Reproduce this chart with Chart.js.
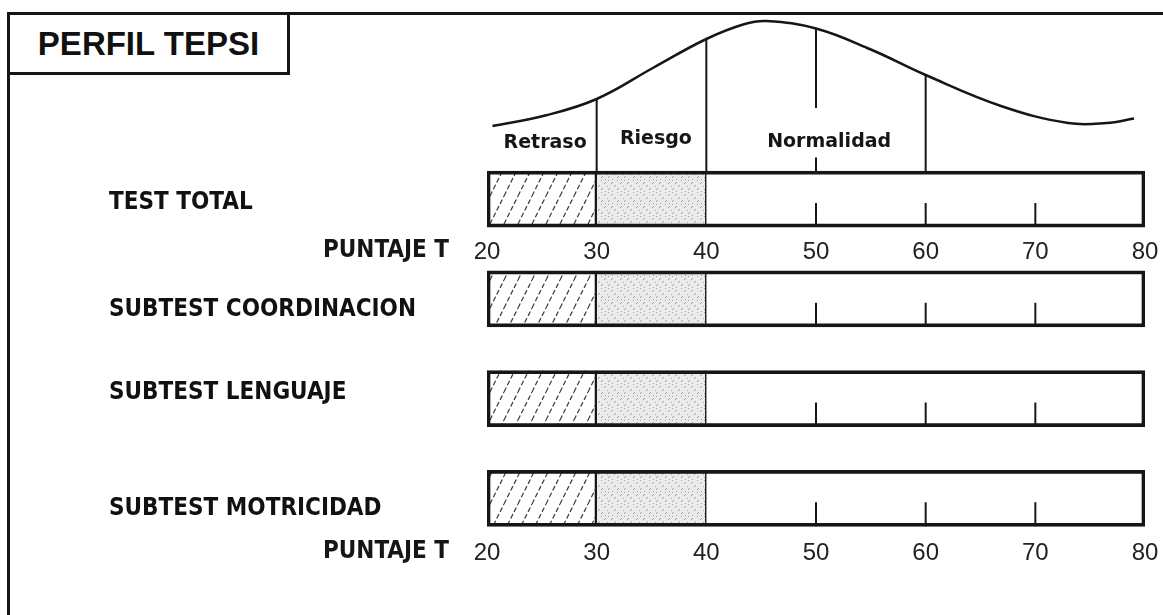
<!DOCTYPE html>
<html>
<head>
<meta charset="utf-8">
<script src="https://cdn.jsdelivr.net/npm/chart.js@4.4.1/dist/chart.umd.min.js"></script>
<style>
  body { margin: 0; background: #fff; }
  #wrap { position: relative; width: 1163px; height: 615px; overflow: hidden; }
  #frame { position: absolute; left: 7px; top: 12px; right: -10px; bottom: -10px;
           border-top: 3px solid #161616; border-left: 3px solid #161616; }
  #title { position: absolute; left: 7px; top: 12px; width: 277px; height: 57px; z-index: 2;
           border: 3px solid #161616; background: #fff; color: #111; text-align: center;
           font: bold 33px 'Liberation Sans', Arial, sans-serif; line-height: 57px; }
  canvas { position: absolute; left: 0; top: 0; }
</style>
</head>
<body>
<div id="wrap">
  <div id="frame"></div>
  <div id="title">PERFIL TEPSI</div>
  <canvas id="chart" width="1163" height="615"></canvas>
</div>
<script>
// rows of the profile
const rowNames = ['TEST TOTAL', 'SUBTEST COORDINACION', 'SUBTEST LENGUAJE', 'SUBTEST MOTRICIDAD'];
const rowIndex = [1, 2, 3, 4];

// T-score zones
const zoneNames = ['Retraso', 'Riesgo', 'Normalidad'];
const zoneLimits = [20, 30, 40, 80];
const zoneLabelAt = [25.3, 35.4, 51.2];
const zoneLabelY = [18.7, 21.3, 19.3];

const scoreTicks = [20, 30, 40, 50, 60, 70, 80];
const innerTicks = [50, 60, 70];

// bell curve (height in % of peak)
const curveX = [20.5, 25.3, 30, 35.2, 40, 43.5, 45.5, 50, 55, 60, 67, 73, 76.5, 79];
const curveY = [30, 37, 48, 69, 88, 98, 100, 95, 81, 64, 43, 32, 32, 35];

// vertical lines from the TEST TOTAL bar up to the curve
const dividerX = [30, 40, 50, 60];
const dividerTop = [48, 88, 95, 64];
const normGap = [9, 42]; // the 50 line is broken by the "Normalidad" text

const ink = '#161616';
const rowFont = { family: "'Liberation Sans Narrow', 'DejaVu Sans Condensed', 'Liberation Sans', sans-serif", size: 24, weight: 'bold' };
const numFont = { family: "'Liberation Sans', Arial, sans-serif", size: 24 };
const labelNudge = [0.04, 0.11, -0.06, 0.10];
const numDrop = 21; // distance from axis line to the middle of its tick labels

function hatch() {
  const c = document.createElement('canvas');
  c.width = 14; c.height = 28;
  const g = c.getContext('2d');
  g.strokeStyle = '#3a3a3a';
  g.lineWidth = 1.2;
  g.setLineDash([5, 2.5]);
  for (const o of [-14, 0, 14]) {
    g.beginPath(); g.moveTo(o, 28); g.lineTo(o + 14, 0); g.stroke();
  }
  return g.createPattern(c, 'repeat');
}

function stipple() {
  const c = document.createElement('canvas');
  c.width = 16; c.height = 12;
  const g = c.getContext('2d');
  g.fillStyle = '#ebebeb';
  g.fillRect(0, 0, 16, 12);
  g.fillStyle = '#a0a0a0';
  for (let i = 0; i < 16; i++)
    for (let j = 0; j < 12; j++)
      if ((i * 5 + j * 7 + (i * j) % 3) % 9 === 0) g.fillRect(i, j, 1, 1);
  return g.createPattern(c, 'repeat');
}

const zoneFill = [hatch(), stipple(), '#ffffff'];

const zoneSets = zoneNames.map((name, z) => ({
  type: 'bar',
  label: name,
  indexAxis: 'y',
  grouped: false,
  barThickness: 56,
  data: rowIndex.map(r => ({ x: [zoneLimits[z], zoneLimits[z + 1]], y: r })),
  backgroundColor: zoneFill[z],
  borderColor: ink,
  borderSkipped: false,
  borderWidth: { left: 0, top: 0, bottom: 0, right: z < 2 ? 1.6 : 0 },
  order: 4
}));

const outlineSet = {
  type: 'bar',
  indexAxis: 'y',
  grouped: false,
  barThickness: 56,
  data: rowIndex.map(r => ({ x: [zoneLimits[0], zoneLimits[3]], y: r })),
  backgroundColor: 'rgba(0,0,0,0)',
  borderColor: ink,
  borderWidth: 3,
  borderSkipped: false,
  order: 3
};

const markSet = {
  type: 'scatter',
  data: rowIndex.flatMap(r => innerTicks.map(v => ({ x: v, y: r + 0.16 }))),
  pointStyle: 'line',
  rotation: 90,
  radius: 12,
  borderColor: ink,
  borderWidth: 2,
  order: 1
};

const curveSet = {
  type: 'line',
  yAxisID: 'yc',
  data: curveX.map((x, i) => ({ x, y: curveY[i] })),
  borderColor: ink,
  borderWidth: 2.5,
  tension: 0.4,
  pointRadius: 0,
  fill: false,
  order: 1
};

const dividerData = [];
dividerX.forEach((x, i) => {
  if (x === 50) {
    dividerData.push({ x, y: 0 }, { x, y: normGap[0] }, { x, y: null }, { x, y: normGap[1] }, { x, y: dividerTop[i] });
  } else {
    dividerData.push({ x, y: 0 }, { x, y: dividerTop[i] });
  }
  dividerData.push({ x, y: null });
});

const dividerSet = {
  type: 'line',
  yAxisID: 'yc',
  data: dividerData,
  borderColor: ink,
  borderWidth: 2,
  tension: 0,
  pointRadius: 0,
  spanGaps: false,
  fill: false,
  order: 1
};

function scoreAxis(rowPos) {
  return {
    type: 'linear',
    min: 20,
    max: 80,
    offset: false,
    position: { y: rowPos },
    grid: { display: false, offset: false },
    border: { display: false },
    ticks: { stepSize: 10, autoSkip: false, maxRotation: 0, padding: 0, color: '#222', font: numFont },
    afterBuildTicks: s => { s.ticks = scoreTicks.map(v => ({ value: v })); }
  };
}

const formText = {
  id: 'formText',
  afterDatasetsDraw(chart) {
    const { ctx, scales } = chart;
    ctx.save();
    ctx.fillStyle = ink;
    ctx.textBaseline = 'middle';
    ctx.textAlign = 'center';
    ctx.font = "bold 19px 'DejaVu Sans', sans-serif";
    zoneNames.forEach((n, i) => {
      ctx.fillText(n, scales.x.getPixelForValue(zoneLabelAt[i]), scales.yc.getPixelForValue(zoneLabelY[i]));
    });
    ctx.textAlign = 'right';
    ctx.font = `bold ${rowFont.size}px ${rowFont.family}`;
    ['x2', 'x'].forEach(id => {
      const s = scales[id];
      ctx.fillText('PUNTAJE T', s.getPixelForValue(20) - 38, scales.y.getPixelForValue(s.options.position.y) + numDrop);
    });
    ctx.restore();
  }
};

new Chart(document.getElementById('chart'), {
  type: 'bar',
  data: { datasets: [...zoneSets, outlineSet, markSet, curveSet, dividerSet] },
  options: {
    responsive: false,
    animation: false,
    layout: { autoPadding: false, padding: { left: 109, right: 18, top: 0, bottom: 0 } },
    plugins: { legend: { display: false }, tooltip: { enabled: false } },
    scales: {
      x: scoreAxis(4.33),
      x2: scoreAxis(1.31),
      y: {
        type: 'linear',
        reverse: true,
        min: -0.996,
        max: 5.17,
        offset: false,
        position: 'left',
        grid: { display: false, offset: false },
        border: { display: false },
        afterBuildTicks: s => { s.ticks = rowIndex.map((r, i) => ({ value: r + labelNudge[i] })); },
        ticks: { crossAlign: 'far', padding: 0, color: '#111', font: rowFont, callback: (v, i) => rowNames[i] },
        afterFit: s => { s.width = 378; s.paddingTop = 0; s.paddingBottom = 0; }
      },
      yc: { type: 'linear', min: -296, max: 114, offset: false, display: false }
    }
  },
  plugins: [formText]
});
</script>
</body>
</html>
